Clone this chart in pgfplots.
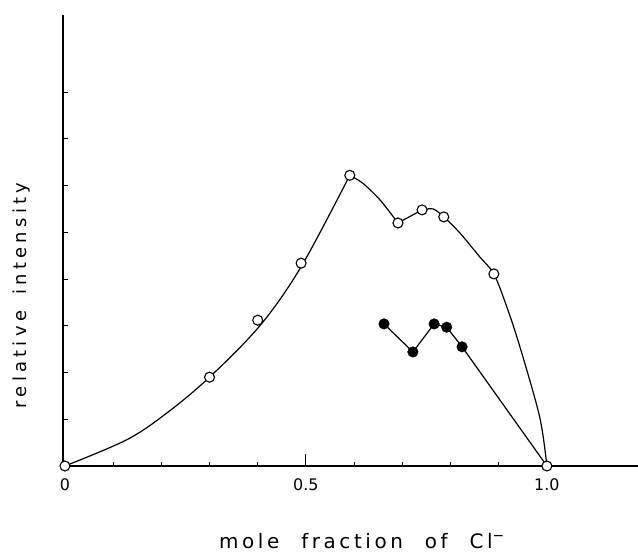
\documentclass[border=0pt]{standalone}
\usepackage{pgfplots}
\pgfplotsset{compat=1.18}
\usepackage{fontspec}
\setmainfont{DejaVu Sans}
\newfontfamily\xlabfont[LetterSpace=18]{DejaVu Sans}
\newfontfamily\ylabfont[LetterSpace=24]{DejaVu Sans}

\pgfplotstableread{
x y
0 0
0.30 1.90
0.40 3.12
0.49 4.34
0.591 6.22
0.691 5.20
0.741 5.48
0.786 5.33
0.89 4.11
1.0 0
}\opendata

\pgfplotstableread{
x y
0.662 3.04
0.722 2.44
0.766 3.04
0.792 2.97
0.824 2.55
}\filldata

\begin{document}
\begin{tikzpicture}
\begin{axis}[
  name=ax,
  scale only axis, width=575bp, height=451bp,
  xmin=-0.004, xmax=1.189, ymin=0, ymax=9.65,
  axis x line=bottom, axis y line=left,
  axis line style={-, line width=1.1bp},
  xtick={0,0.5,1}, xticklabels={0,0.5,1.0},
  minor xtick={0.1,0.2,0.3,0.4,0.6,0.7,0.8,0.9},
  extra x ticks={0.5}, extra x tick labels={},
  extra x tick style={major tick length=12bp},
  ytick={1,2,...,8}, yticklabels={},
  tick align=inside, major tick length=5bp, minor tick length=4bp,
  tick style={line width=0.9bp, black},
  tick label style={font=\fontsize{16}{18}\selectfont},
  xticklabel style={yshift=-9bp},
  /pgf/number format/assume math mode=true,
  xlabel={\xlabfont mole\hskip 1.1em fraction\hskip 1.1em of\hskip 1.1em Cl\textsuperscript{−}},
  xlabel style={at={(axis description cs:0.52,0)}, anchor=base, yshift=-82bp, font=\fontsize{20}{22}\selectfont},
  clip=false,
]
% axis label placed by hand
\node[rotate=90, anchor=base, font=\fontsize{18}{20}\selectfont] at (axis cs:-0.0788,3.647) {\ylabfont relative\hskip 0.9em intensity};
% hand-drawn guide curve through the open circles
\addplot[black, line width=1.2bp, smooth, tension=0.55] coordinates {(0,0) (0.128,0.56) (0.211,1.13) (0.30,1.90) (0.406,3.02) (0.491,4.28) (0.591,6.22)};
\addplot[black, line width=1.2bp, smooth, tension=0.5] coordinates {(0.591,6.22) (0.618,6.05) (0.654,5.69) (0.691,5.20)};
\addplot[black, line width=1.2bp] coordinates {(0.691,5.20) (0.741,5.48)};
\addplot[black, line width=1.2bp, smooth, tension=0.5] coordinates {(0.741,5.48) (0.764,5.50) (0.786,5.33) (0.82,4.98) (0.861,4.47) (0.89,4.11) (0.917,3.40) (0.944,2.55) (0.985,1.05) (1.0,0)};
% filled-circle series joined by straight lines down to (1,0)
\addplot[black, line width=1.2bp] coordinates {(0.662,3.04) (0.722,2.44) (0.766,3.04) (0.792,2.97) (0.824,2.55) (1.0,0)};
\addplot[only marks, mark=*, mark size=5.3bp, black] table {\filldata};
\addplot[only marks, mark=*, mark size=5bp, draw=black, fill=white, mark options={line width=1.1bp}] table {\opendata};
\end{axis}
\pgfresetboundingbox
\path ([shift={(-63bp,-89bp)}]ax.south west) rectangle ([shift={(575bp,466bp)}]ax.south west);
\end{tikzpicture}
\end{document}
